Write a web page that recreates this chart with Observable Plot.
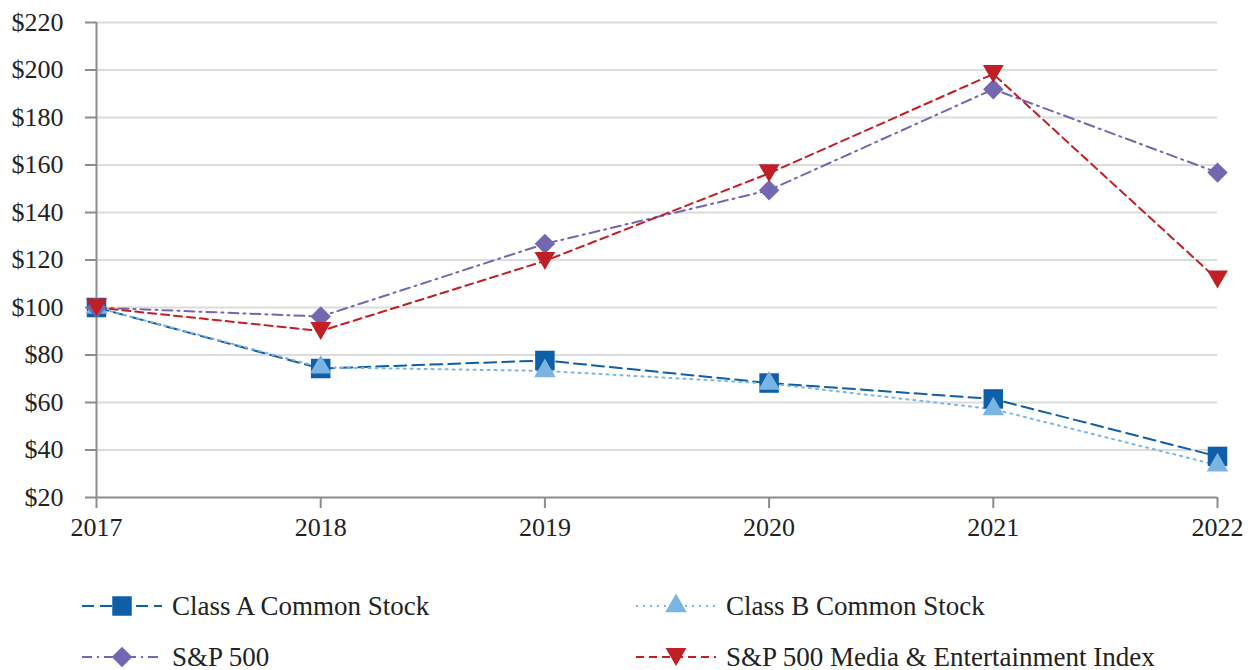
<!DOCTYPE html>
<html><head><meta charset="utf-8">
<script src="https://cdn.jsdelivr.net/npm/d3@7"></script>
<script src="https://cdn.jsdelivr.net/npm/@observablehq/plot@0.6"></script>
<style>
body{margin:0;background:#fff;font-family:"Liberation Serif","Times New Roman",serif;}
#wrap{position:relative;width:1254px;height:670px;overflow:hidden;}
.leg{position:absolute;display:flex;align-items:center;font-size:27px;color:#222;white-space:nowrap;height:40px;}
.leg span{margin-left:10px;}
</style></head><body><div id="wrap"></div>
<script>
const years = [2017, 2018, 2019, 2020, 2021, 2022];
const classA = [100, 74.3, 77.7, 68.2, 61.5, 37.3];
const classB = [100, 74.8, 73.3, 68.0, 57.2, 33.6];
const sp500 = [100, 96.2, 126.8, 149.4, 191.9, 156.8];
const media = [100, 90.1, 119.6, 156.5, 198.3, 111.8];
const seriesNames = ["Class A Common Stock", "Class B Common Stock", "S&P 500", "S&P 500 Media & Entertainment Index"];
const yTicks = [20, 40, 60, 80, 100, 120, 140, 160, 180, 200, 220];

const triangleDown = {draw(ctx, size){const s=Math.sqrt(size); const w=s*1.1, h=s*0.95; ctx.moveTo(-w/2,-h/2); ctx.lineTo(w/2,-h/2); ctx.lineTo(0,h/2); ctx.closePath();}};

const styles = [
  {color:"#0f5ea8", dash:"12,6", symbol:"square", r:11},
  {color:"#7ab4e2", dash:"2,5", symbol:"triangle", r:8},
  {color:"#7466b1", dash:"10,5,2,5", symbol:"diamond2", r:9.2},
  {color:"#c11f26", dash:"8,5", symbol:triangleDown, r:10.7}
];
const values = [classA, classB, sp500, media];
const series = seriesNames.map((name, i) => ({name, style: styles[i], data: years.map((y, j) => ({year: y, value: values[i][j]}))}));

const marks = [
  Plot.ruleY(yTicks.filter(d => d > 20), {stroke:"#dcdcdc", strokeWidth:2}),
  Plot.axisY({ticks: yTicks, tickFormat: d => "$" + d, tickSize: 11, tickPadding: 22, stroke:"#8c8c8c", strokeWidth:2, fontSize:26, fill:"#222", label:null}),
  Plot.axisX({ticks: years, tickFormat: d => String(d), tickSize: 11, tickPadding: 9, stroke:"#8c8c8c", strokeWidth:2, fontSize:26, fill:"#222", label:null}),
  Plot.ruleX([2017], {stroke:"#8c8c8c", strokeWidth:2}),
  Plot.ruleY([20], {stroke:"#8c8c8c", strokeWidth:2})
];
for (const s of series) {
  marks.push(Plot.line(s.data, {x:"year", y:"value", stroke:s.style.color, strokeWidth:2, strokeDasharray:s.style.dash}));
}
for (const s of series) {
  marks.push(Plot.dot(s.data, {x:"year", y:"value", fill:s.style.color, stroke:"none", symbol:() => s.style.symbol, r:s.style.r}));
}

const chart = Plot.plot({
  width: 1254, height: 560,
  marginLeft: 96, marginRight: 37, marginTop: 22, marginBottom: 63,
  style: {fontFamily: '"Liberation Serif","Times New Roman",serif', fontSize: "26px", background:"#fff", overflow:"visible"},
  x: {type:"linear", domain:[2017, 2022]},
  y: {domain:[20, 220]},
  symbol: {type:"identity"},
  marks
});
const wrap = document.getElementById("wrap");
wrap.appendChild(chart);

const legPos = [[82, 606], [636, 606], [82, 657], [636, 657]];
const symMap = {square: d3.symbolSquare, triangle: d3.symbolTriangle, diamond2: d3.symbolDiamond2};
series.forEach((s, i) => {
  const div = document.createElement("div");
  div.className = "leg";
  div.style.left = legPos[i][0] + "px";
  div.style.top = (legPos[i][1] - 20) + "px";
  const svg = d3.create("svg").attr("width", 80).attr("height", 40);
  svg.append("line").attr("x1",0).attr("x2",80).attr("y1",20).attr("y2",20)
    .attr("stroke", s.style.color).attr("stroke-width",2).attr("stroke-dasharray", s.style.dash);
  const symType = typeof s.style.symbol === "string" ? symMap[s.style.symbol] : s.style.symbol;
  svg.append("path").attr("transform","translate(40,20)")
    .attr("d", d3.symbol(symType, Math.PI * s.style.r * s.style.r)())
    .attr("fill", s.style.color);
  div.appendChild(svg.node());
  const sp = document.createElement("span");
  sp.textContent = s.name;
  div.appendChild(sp);
  wrap.appendChild(div);
});
</script>
</body></html>
